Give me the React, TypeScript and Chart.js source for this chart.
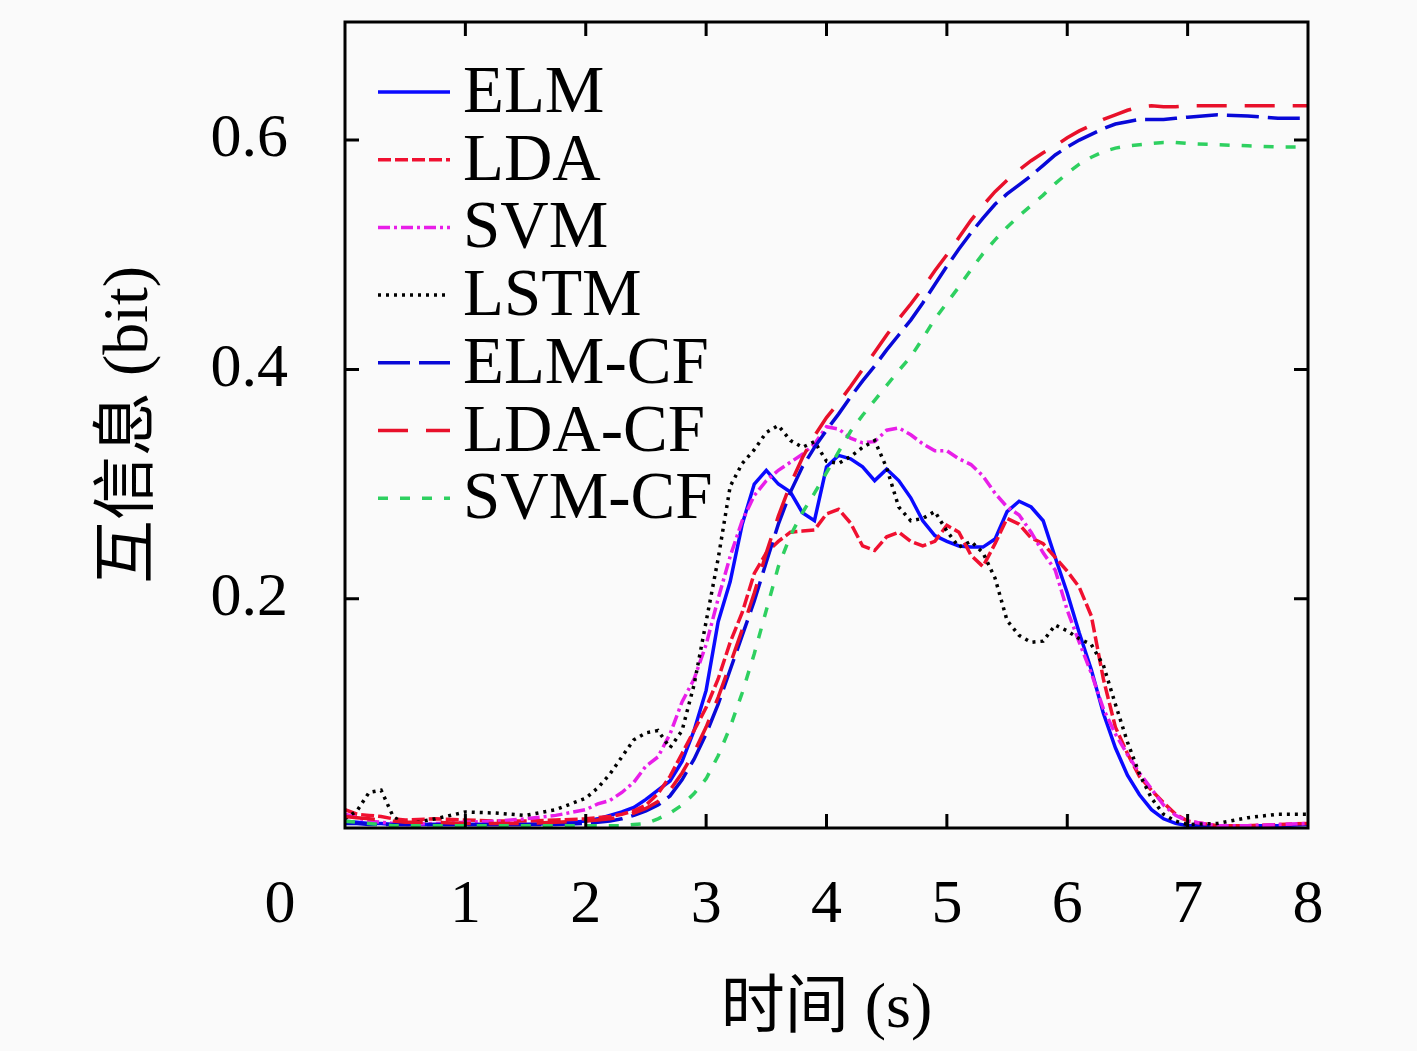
import { useEffect, useRef } from 'react'
import { Chart, registerables, type ChartConfiguration, type Plugin } from 'chart.js'

Chart.register(...registerables)

const W = 1417
const H = 1051
const SERIF = "'Liberation Serif', 'Noto Sans CJK SC', serif"

// time axis (s) shared by every series
const TIME = [
  0, 0.1, 0.2, 0.3, 0.4, 0.5, 0.75, 1, 1.25, 1.5, 1.75,
  2.0, 2.1, 2.2, 2.3, 2.4, 2.5, 2.6, 2.7, 2.8, 2.9,
  3.0, 3.1, 3.2, 3.3, 3.4, 3.5, 3.6, 3.7, 3.8, 3.9,
  4.0, 4.1, 4.2, 4.3, 4.4, 4.5, 4.6, 4.7, 4.8, 4.9,
  5.0, 5.1, 5.2, 5.3, 5.4, 5.5, 5.6, 5.7, 5.8, 5.9,
  6.0, 6.1, 6.2, 6.3, 6.4, 6.5, 6.6, 6.7, 6.8, 6.9,
  7.0, 7.25, 7.5, 7.75, 8,
]

const ELM = [
  .006, .005, .004, .004, .003, .003, .003, .003, .003, .003, .004,
  .006, .008, .011, .014, .018, .025, .033, .041, .058, .085,
  .12, .18, .215, .265, .3, .312, .3, .293, .275, .268,
  .315, .325, .322, .315, .303, .313, .303, .288, .268, .255,
  .25, .246, .245, .245, .252, .276, .285, .28, .268, .236,
  .205, .17, .138, .1, .07, .046, .029, .016, .008, .004,
  .002, .002, .002, .002, .003,
]

const LDA = [
  .016, .012, .011, .01, .008, .007, .008, .007, .006, .006, .007,
  .008, .009, .01, .012, .015, .02, .03, .045, .065, .085,
  .105, .13, .162, .188, .222, .24, .25, .258, .259, .26,
  .274, .278, .266, .246, .242, .254, .258, .25, .246, .25,
  .264, .258, .238, .228, .248, .27, .265, .253, .248, .236,
  .224, .21, .185, .13, .088, .065, .045, .033, .022, .012,
  .006, .002, .002, .003, .004,
]

const SVM = [
  .012, .009, .006, .005, .004, .003, .004, .005, .006, .008, .011,
  .016, .021, .024, .031, .04, .054, .062, .082, .11, .13,
  .16, .2, .237, .268, .29, .303, .312, .319, .326, .335,
  .35, .348, .34, .336, .337, .347, .349, .343, .335, .329,
  .329, .322, .317, .307, .292, .28, .273, .258, .24, .225,
  .19, .162, .135, .104, .082, .064, .048, .034, .02, .011,
  .006, .002, .002, .003, .004,
]

const LSTM = [
  .008, .015, .031, .033, .01, .003, .008, .014, .013, .011, .016,
  .026, .035, .047, .062, .077, .083, .085, .07, .085, .125,
  .18, .235, .298, .318, .33, .345, .351, .338, .332, .337,
  .32, .318, .324, .332, .338, .314, .28, .268, .27, .276,
  .259, .245, .25, .24, .218, .181, .168, .162, .163, .177,
  .172, .165, .16, .142, .108, .075, .047, .026, .012, .006,
  .003, .004, .009, .012, .012,
]

const ELM_CF = [
  .004, .004, .003, .003, .003, .003, .003, .003, .003, .003, .003,
  .004, .005, .006, .008, .011, .015, .02, .028, .042, .06,
  .082, .108, .138, .168, .198, .232, .265, .293, .315, .332,
  .347, .361, .376, .39, .403, .417, .43, .443, .458, .474,
  .49, .505, .519, .532, .544, .553, .561, .569, .578, .587,
  .594, .6, .605, .61, .614, .616, .618, .618, .618, .619,
  .62, .622, .621, .619, .619,
]

const LDA_CF = [
  .01, .009, .008, .007, .006, .005, .005, .004, .004, .004, .005,
  .006, .007, .008, .01, .013, .017, .023, .033, .048, .066,
  .088, .114, .143, .173, .205, .24, .272, .3, .323, .342,
  .358, .371, .385, .4, .415, .43, .444, .457, .471, .486,
  .5, .515, .53, .543, .555, .565, .574, .582, .589, .595,
  .602, .608, .613, .618, .622, .626, .629, .63, .629, .629,
  .63, .63, .63, .63, .63,
]

const SVM_CF = [
  .006, .005, .004, .003, .002, .002, .002, .002, .002, .002, .002,
  .002, .002, .002, .002, .003, .004, .008, .013, .02, .03,
  .043, .063, .088, .118, .152, .19, .228, .255, .275, .292,
  .31, .328, .346, .36, .373, .386, .399, .411, .427, .444,
  .458, .472, .487, .501, .513, .524, .534, .543, .552, .562,
  .571, .579, .585, .59, .593, .595, .596, .597, .598, .598,
  .597, .596, .595, .594, .594,
]

const X_TICKS = [1, 2, 3, 4, 5, 6, 7, 8]
const Y_TICKS = [0.2, 0.4, 0.6]

const SERIES = [
  { label: 'ELM', data: ELM, color: '#0a0aff', dash: [] as number[] },
  { label: 'LDA', data: LDA, color: '#f01030', dash: [13, 4] },
  { label: 'SVM', data: SVM, color: '#e81ee8', dash: [12, 4, 3, 4] },
  { label: 'LSTM', data: LSTM, color: '#000000', dash: [3, 5] },
  { label: 'ELM-CF', data: ELM_CF, color: '#0808d8', dash: [32, 9] },
  { label: 'LDA-CF', data: LDA_CF, color: '#e8102a', dash: [30, 18] },
  { label: 'SVM-CF', data: SVM_CF, color: '#2ed060', dash: [10, 12] },
]

const LINE_W = 3.5

// inward ticks and the closed frame, gnuplot style
const framePlugin: Plugin<'line'> = {
  id: 'frame',
  afterDatasetsDraw(chart) {
    const { ctx, chartArea: { left, right, top, bottom }, scales: { x, y } } = chart
    const len = 14
    ctx.save()
    ctx.strokeStyle = '#000'
    ctx.lineWidth = 3
    ctx.beginPath()
    X_TICKS.filter(v => v < 8).forEach(v => {
      const px = x.getPixelForValue(v)
      ctx.moveTo(px, bottom); ctx.lineTo(px, bottom - len)
      ctx.moveTo(px, top); ctx.lineTo(px, top + len)
    })
    Y_TICKS.forEach(v => {
      const py = y.getPixelForValue(v)
      ctx.moveTo(left, py); ctx.lineTo(left + len, py)
      ctx.moveTo(right, py); ctx.lineTo(right - len, py)
    })
    ctx.stroke()
    ctx.strokeRect(left, top, right - left, bottom - top)
    // shared origin label, set apart below-left like the original
    ctx.fillStyle = '#000'
    ctx.font = `62px ${SERIF}`
    ctx.textAlign = 'center'
    ctx.textBaseline = 'alphabetic'
    ctx.fillText('0', left - 65, bottom + 94)
    ctx.restore()
  },
}

// legend drawn inside the plot, upper left
const legendPlugin: Plugin<'line'> = {
  id: 'insideLegend',
  afterDraw(chart) {
    const { ctx, chartArea: { left, top } } = chart
    ctx.save()
    chart.data.datasets.forEach((ds: any, i) => {
      const yy = top + 70 + i * 67.7
      ctx.strokeStyle = ds.borderColor
      ctx.lineWidth = LINE_W
      ctx.setLineDash(ds.borderDash || [])
      ctx.beginPath()
      ctx.moveTo(left + 33, yy)
      ctx.lineTo(left + 105, yy)
      ctx.stroke()
      ctx.setLineDash([])
      ctx.fillStyle = '#000'
      ctx.font = `67px ${SERIF}`
      ctx.textAlign = 'left'
      ctx.textBaseline = 'alphabetic'
      ctx.fillText(ds.label, left + 118, yy + 20)
    })
    ctx.restore()
  },
}

function MutualInfoChart() {
  const ref = useRef<HTMLCanvasElement>(null)

  useEffect(() => {
    if (!ref.current) return

    const config: ChartConfiguration<'line'> = {
      type: 'line',
      data: {
        datasets: SERIES.map((s, i) => ({
          label: s.label,
          data: TIME.map((t, k) => ({ x: t, y: s.data[k] })),
          borderColor: s.color,
          borderDash: s.dash,
          borderWidth: LINE_W,
          pointRadius: 0,
          tension: 0,
          fill: false,
          order: SERIES.length - i,
        })),
      },
      options: {
        animation: false,
        responsive: false,
        devicePixelRatio: 1,
        layout: { autoPadding: false, padding: { top: 22, right: W - 1308, bottom: 0, left: 0 } },
        plugins: {
          legend: { display: false },
          tooltip: { enabled: false },
        },
        scales: {
          x: {
            type: 'linear',
            min: 0,
            max: 8,
            afterBuildTicks: s => { s.ticks = X_TICKS.map(v => ({ value: v })) },
            afterFit: s => {
              s.height = H - 828
              s.paddingLeft = 0; s.paddingRight = 0
            },
            grid: { display: false },
            border: { display: false },
            ticks: {
              color: '#000',
              font: { family: SERIF, size: 62 },
              padding: 33,
              maxRotation: 0,
              autoSkip: false,
              callback: v => String(v),
            },
            title: {
              display: true,
              text: '时间 (s)',
              color: '#000',
              font: { family: SERIF, size: 64 },
              padding: { top: 0, bottom: 2 },
            },
          },
          y: {
            type: 'linear',
            min: 0,
            max: 0.703,
            afterBuildTicks: s => { s.ticks = Y_TICKS.map(v => ({ value: v })) },
            afterFit: s => {
              s.width = 345
              s.paddingTop = 0; s.paddingBottom = 0
            },
            grid: { display: false },
            border: { display: false },
            ticks: {
              color: '#000',
              font: { family: SERIF, size: 62 },
              padding: 49,
              callback: v => Number(v).toFixed(1),
            },
            title: {
              display: true,
              text: '互信息 (bit)',
              color: '#000',
              font: { family: SERIF, size: 64 },
              padding: { top: 92, bottom: 0 },
            },
          },
        },
      },
      plugins: [framePlugin, legendPlugin],
    }

    const chart = new Chart(ref.current, config)
    return () => chart.destroy()
  }, [])

  return <canvas ref={ref} width={W} height={H} style={{ display: 'block' }} />
}

export default function App() {
  return (
    <div style={{ position: 'absolute', left: 0, top: 0, width: W, height: H, background: '#fafafa' }}>
      <MutualInfoChart />
    </div>
  )
}
